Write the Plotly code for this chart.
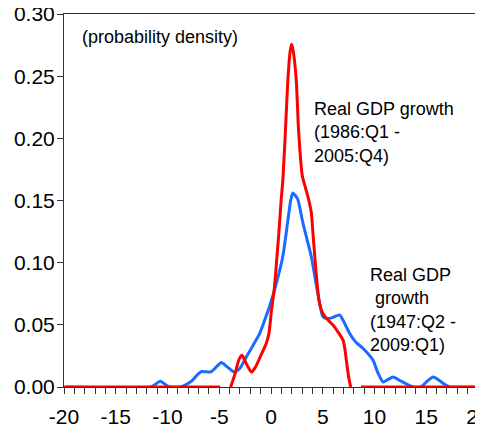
import plotly.graph_objects as go

# ---- data ----
red_x = [-20, -4.9, None,
         -3.9, -3.5, -3.1, -2.8, -2.4, -1.9, -1.5, -1.0, -0.46, -0.2, 0.05, 0.31, 0.5, 0.76, 0.98,
         1.15, 1.40, 1.63, 1.85, 2.0, 2.15, 2.44, 2.66, 3.02, 3.34, 3.66, 3.9, 4.05, 4.31, 4.63,
         5.02, 5.5, 5.99, 6.5, 6.96, 7.15, 7.28, 7.5, 7.7, None,
         8.7, 19.8]
red_y = [0, 0, None,
         0, 0.010, 0.022, 0.0256, 0.019, 0.012, 0.016, 0.025, 0.035, 0.043, 0.062, 0.078, 0.097, 0.124, 0.150,
         0.167, 0.207, 0.247, 0.270, 0.2756, 0.270, 0.247, 0.207, 0.170, 0.160, 0.150, 0.140, 0.124, 0.097, 0.070,
         0.059, 0.054, 0.0498, 0.044, 0.0377, 0.030, 0.0215, 0.008, 0, None,
         0, 0]

blue_x = [-19.7, -11.6, -11.2, -10.7, -10.2, -9.8, -8.7, -8.2, -7.6, -7.1, -6.7, -6.2, -5.8, -5.3, -4.8,
          -4.2, -3.55, -3.0, -2.4, -1.7, -1.1, -0.6, -0.15, 0.5, 1.14, 1.63, 1.9, 2.11, 2.35, 2.6, 3.08,
          3.5, 3.89, 4.53, 5.02, 5.5, 6.0, 6.63, 7.0, 7.6, 8.2, 8.9, 9.86, 10.3, 10.83, 11.3, 11.8, 12.5,
          13.2, 13.7, 14.5, 15.0, 15.67, 16.3, 16.8, 17.3, 19.6]
blue_y = [0, 0, 0.002, 0.0046, 0.002, 0, 0, 0.002, 0.0054, 0.010, 0.0125, 0.0122, 0.0122, 0.016, 0.0197,
          0.016, 0.012, 0.015, 0.024, 0.034, 0.043, 0.054, 0.0645, 0.083, 0.105, 0.134, 0.150, 0.156, 0.154, 0.1506, 0.132,
          0.118, 0.105, 0.075, 0.0565, 0.055, 0.056, 0.058, 0.053, 0.043, 0.036, 0.031, 0.0215, 0.012, 0.004, 0.006, 0.008, 0.005,
          0.002, 0, 0, 0.004, 0.008, 0.005, 0.002, 0, 0]

x_ticks = [-20, -15, -10, -5, 0, 5, 10, 15, 20]
y_ticks = [0.00, 0.05, 0.10, 0.15, 0.20, 0.25, 0.30]

FONT = "Arial, Liberation Sans, sans-serif"
AX = "#333333"

fig = go.Figure()
fig.add_trace(go.Scatter(x=blue_x, y=blue_y, mode="lines",
                         line=dict(color="#1A6BFF", width=3, shape="spline", smoothing=0.6),
                         connectgaps=False, showlegend=False))
fig.add_trace(go.Scatter(x=red_x, y=red_y, mode="lines",
                         line=dict(color="#FF0000", width=3, shape="spline", smoothing=0.6),
                         connectgaps=False, showlegend=False))

fig.add_annotation(x=-18.45, y=0.2812, xref="x", yref="y", text="(probability density)",
                   showarrow=False, xanchor="left", yanchor="middle", align="left",
                   font=dict(family=FONT, size=18, color="black"))
fig.add_annotation(x=4.0, y=0.2045, xref="x", yref="y",
                   text="Real GDP growth<br>(1986:Q1 -<br>2005:Q4)",
                   showarrow=False, xanchor="left", yanchor="middle", align="left",
                   font=dict(family=FONT, size=18, color="black"))
fig.add_annotation(x=9.37, y=0.0621, xref="x", yref="y",
                   text="Real GDP<br>\u00a0growth<br>(1947:Q2 -<br>2009:Q1)",
                   showarrow=False, xanchor="left", yanchor="middle", align="left",
                   font=dict(family=FONT, size=18, color="black"))

fig.update_layout(
    width=475, height=423,
    margin=dict(l=56, r=5, t=6, b=44, pad=0, autoexpand=False),
    paper_bgcolor="white", plot_bgcolor="white",
    font=dict(family=FONT, size=21, color="black"),
    showlegend=False,
)
fig.update_xaxes(range=[-20, 20], tickvals=x_ticks, ticktext=[str(v) for v in x_ticks],
                 ticks="outside", ticklen=6, tickwidth=1, tickcolor=AX, ticklabeloverflow="allow",
                 minor=dict(tickvals=list(range(-20, 21)), ticks="outside", ticklen=6, tickwidth=1, tickcolor=AX),
                 showline=True, linecolor=AX, linewidth=1, mirror=True, automargin=False,
                 showgrid=False, zeroline=False, tickfont=dict(size=21), ticklabelstandoff=5)
fig.update_yaxes(range=[0, 0.30], tickvals=y_ticks, ticktext=[f"{v:.2f}" for v in y_ticks],
                 ticks="outside", ticklen=6, tickwidth=1, tickcolor=AX, automargin=False,
                 ticklabeloverflow="allow",
                 showline=True, linecolor=AX, linewidth=1, mirror="ticks",
                 showgrid=False, zeroline=False, tickfont=dict(size=21), ticklabelstandoff=-2)

fig.write_html("out.html")
